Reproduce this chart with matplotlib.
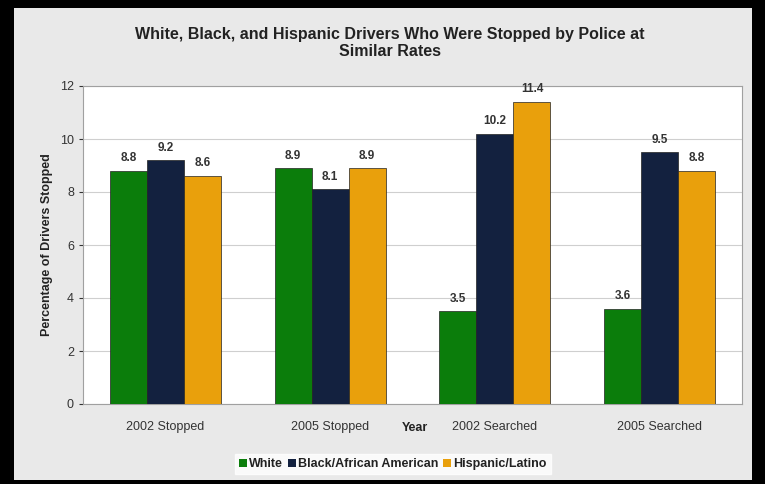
import numpy as np
import matplotlib.pyplot as plt
from matplotlib.patches import Rectangle, Patch

# Data
categories = ['2002 Stopped', '2005 Stopped', '2002 Searched', '2005 Searched']
series = ['White', 'Black/African American', 'Hispanic/Latino']
white = [8.8, 8.9, 3.5, 3.6]
black = [9.2, 8.1, 10.2, 9.5]
hispanic = [8.6, 8.9, 11.4, 8.8]

colors = ['#0b7d0b', '#13213f', '#e9a00c']

plt.rcParams['font.family'] = ['Liberation Sans', 'DejaVu Sans']

fig = plt.figure(figsize=(7.65, 4.84), dpi=100)
fig.patch.set_facecolor('black')

# grey panel behind the chart
fig.patches.append(Rectangle((14 / 765, 1 - 480 / 484), 738 / 765, 472 / 484,
                             transform=fig.transFigure, facecolor='#e9e9e9',
                             edgecolor='none', zorder=-1))

ax = fig.add_axes([83 / 765, 1 - 404 / 484, 659 / 765, 318 / 484])
ax.set_zorder(1)
ax.set_facecolor('white')

x = np.arange(len(categories))
w = 0.225
for i, (vals, c) in enumerate(zip([white, black, hispanic], colors)):
    bars = ax.bar(x + (i - 1) * w, vals, width=w, color=c,
                  edgecolor='#222222', linewidth=0.5, zorder=3)
    for b, v in zip(bars, vals):
        ax.text(b.get_x() + b.get_width() / 2, v + 0.25, f'{v:.1f}',
                ha='center', va='bottom', fontsize=8.5, fontweight='bold',
                color='#333333')

ax.set_xlim(-0.5, 3.5)
ax.set_ylim(0, 12)
ax.set_yticks(range(0, 13, 2))
ax.set_xticks(x)
ax.set_xticklabels(categories, fontsize=9, color='#333333')
ax.tick_params(axis='y', labelsize=9, colors='#333333', length=3)
ax.tick_params(axis='x', length=0, pad=12)
ax.yaxis.grid(True, color='#cfcfcf', linewidth=0.8, zorder=0)
ax.set_axisbelow(True)
for s in ax.spines.values():
    s.set_color('#a0a0a0')

ax.set_ylabel('Percentage of Drivers Stopped', fontsize=9,
              fontweight='bold', color='#222222', labelpad=5)
fig.text(415 / 765, 1 - 428 / 484, 'Year', ha='center', va='center',
         fontsize=9, fontweight='bold', color='#222222')

fig.text(390 / 765, 1 - 43 / 484,
         'White, Black, and Hispanic Drivers Who Were Stopped by Police at\nSimilar Rates',
         ha='center', va='center', fontsize=11.5, fontweight='bold',
         color='#222222', linespacing=1.2)

handles = [Patch(facecolor=c, edgecolor='none', label=s) for c, s in zip(colors, series)]
leg = fig.legend(handles=handles, loc='center', bbox_to_anchor=(393 / 765, 1 - 464 / 484),
                 ncol=3, frameon=True, fontsize=9, handlelength=0.6,
                 handleheight=0.6, handletextpad=0.2, columnspacing=0.4,
                 borderpad=0.3, fancybox=False)
leg.get_frame().set_facecolor('white')
leg.get_frame().set_edgecolor('white')
for t in leg.get_texts():
    t.set_fontweight('bold')
    t.set_color('#222222')

fig.savefig('out.png', dpi=100, facecolor=fig.get_facecolor())
